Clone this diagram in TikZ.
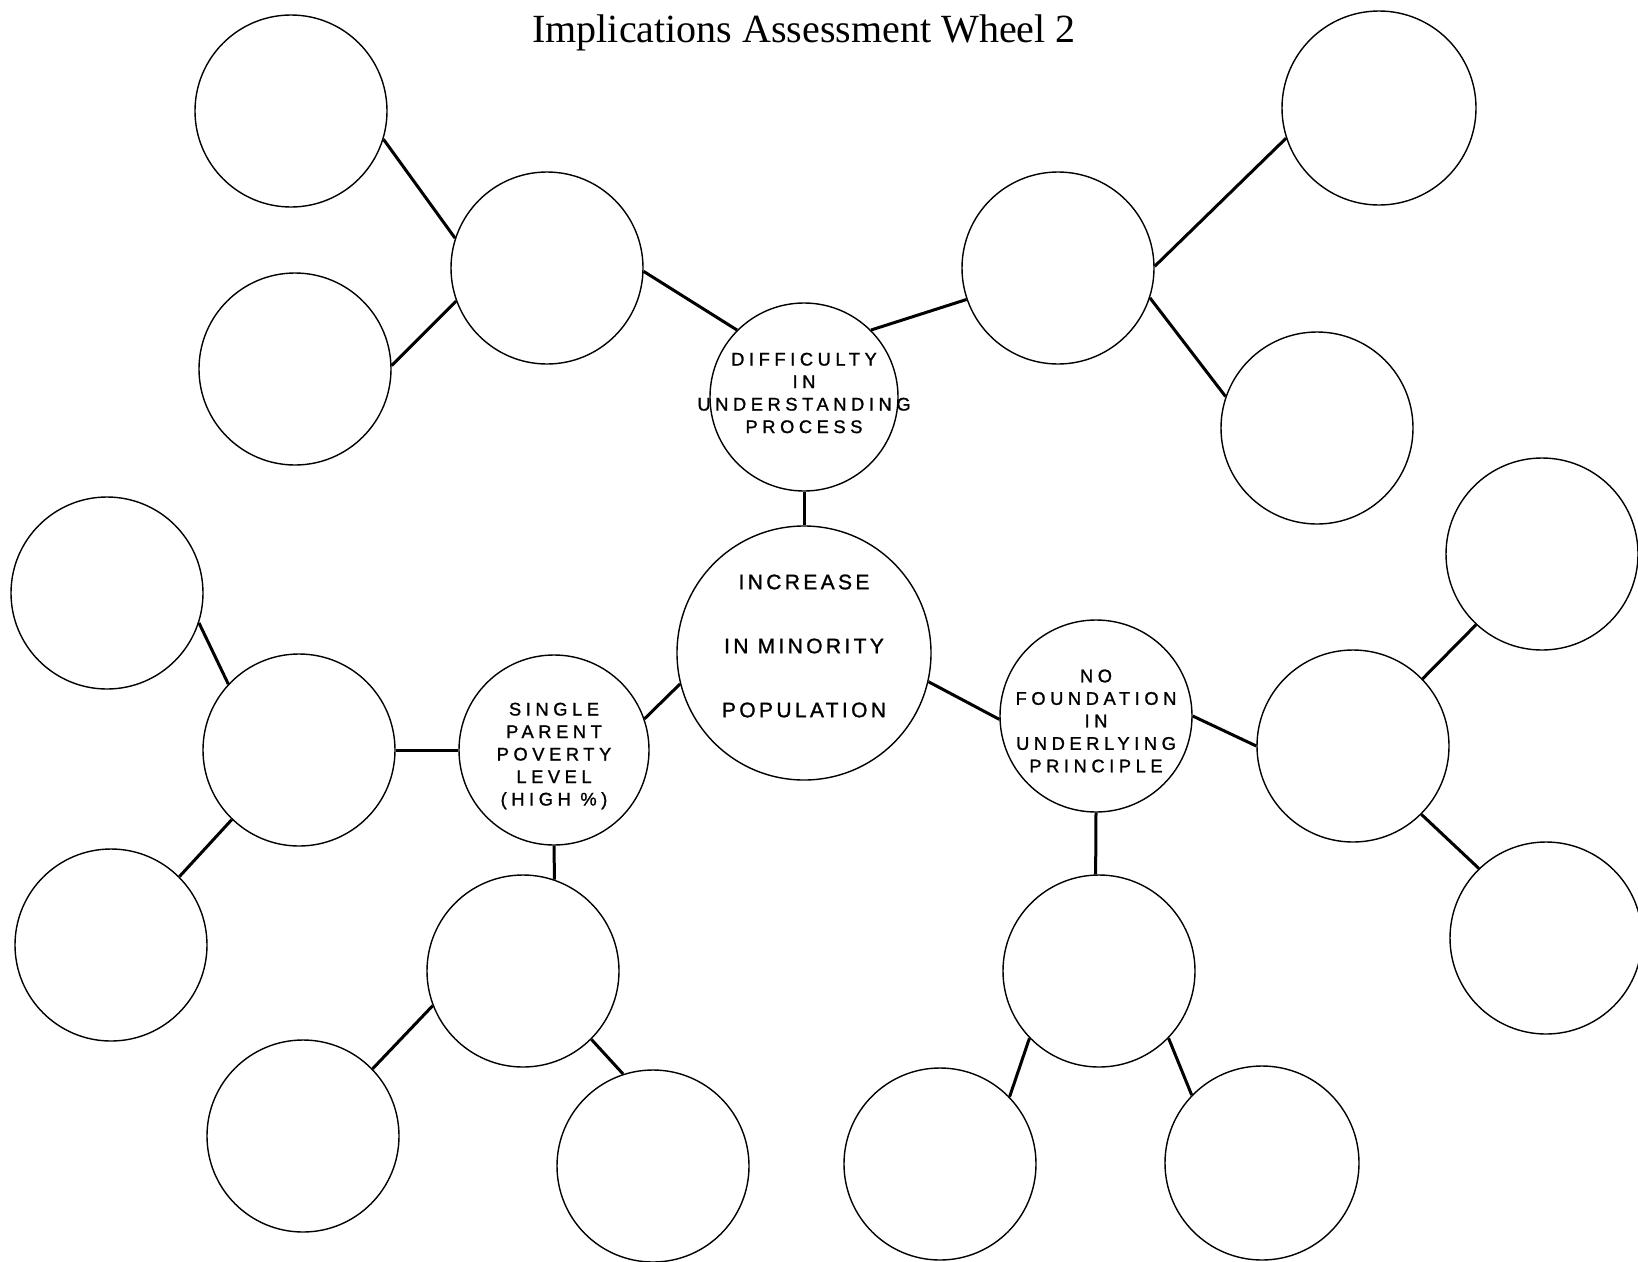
\documentclass[tikz,border=0pt]{standalone}
\usepackage{fontspec}
\setmainfont{Liberation Serif}
\newfontfamily\hubfont[LetterSpace=16,FakeBold=1.2]{Liberation Sans}
\newfontfamily\spokefont[LetterSpace=25,FakeBold=1.2]{Liberation Sans}
\begin{document}
\begin{tikzpicture}[x=1pt,y=-1pt,
  wheel/.style={circle,draw,line width=1.4pt,inner sep=0pt,minimum size=#1},
  wheel/.default=192pt,
  link/.style={line width=3pt},
  hubtext/.style={align=center,inner sep=0pt,font=\hubfont\fontsize{21}{64}\selectfont},
  spoketext/.style={align=center,inner sep=0pt,font=\spokefont\fontsize{18.3}{22.5}\selectfont}]
\useasboundingbox[fill=white] (0,0) rectangle (1638,1261);

% title
\node[anchor=base,inner sep=0pt,font=\fontsize{40}{48}\selectfont] (title) at (804,42)
  {Implications Assessment Wheel 2};

% hub and first ring
\node[wheel=254pt] (hub) at (804,653) {};
\node[wheel=188pt] (diff) at (804,397) {};
\node[wheel=190pt] (single) at (554,750) {};
\node[wheel=192pt] (found) at (1096,716) {};

% second ring
\node[wheel] (tlm) at (547,268) {};
\node[wheel] (trm) at (1058,268) {};
\node[wheel] (lm) at (299,750) {};
\node[wheel] (blm) at (523,971) {};
\node[wheel] (brm) at (1099,971) {};
\node[wheel] (rm) at (1353,746) {};

% outer ring
\node[wheel] (tla) at (291,111) {};
\node[wheel] (tlb) at (295,369) {};
\node[wheel=194pt] (tra) at (1379,108) {};
\node[wheel] (trb) at (1317,428) {};
\node[wheel] (la) at (107,593) {};
\node[wheel] (lb) at (111,945) {};
\node[wheel] (bla) at (303,1136) {};
\node[wheel] (blb) at (653,1166) {};
\node[wheel] (bra) at (940,1164) {};
\node[wheel=194pt] (brb) at (1262,1163) {};
\node[wheel] (ra) at (1542,554) {};
\node[wheel] (rb) at (1546,938) {};

% labels
\node[hubtext] (hub-t) at (804,646) {INCREASE\\IN MINORITY\\POPULATION};
\node[spoketext] (diff-t) at (804,393) {DIFFICULTY\\IN\\UNDERSTANDING\\PROCESS};
\node[spoketext] (single-t) at (554,756) {SINGLE\\PARENT\\POVERTY\\LEVEL\\(HIGH \%)};
\node[spoketext] (found-t) at (1096,721) {NO\\FOUNDATION\\IN\\UNDERLYING\\PRINCIPLE};

% connectors
\draw[link] (tla.-17) -- (tlm.162);
\draw[link] (tlb.2) -- (tlm.200);
\draw[link] (tlm.-2) -- (diff.135);
\draw[link] (diff.45) -- (trm.199);
\draw[link] (trm.1) -- (tra.198);
\draw[link] (trm.-18) -- (trb.161);
\draw[link] (diff.south) -- (hub.north);
\draw[link] (hub.194) -- (single.19);
\draw[link] (hub.-13) -- (found.182);
\draw[link] (lm.east) -- (single.west);
\draw[link] (lm.137) -- (la.-18);
\draw[link] (lm.226) -- (lb.45);
\draw[link] (single.south) -- (blm.71);
\draw[link] (blm.201) -- (bla.44);
\draw[link] (blm.-45) -- (blb.108);
\draw[link] (found.east) -- (rm.west);
\draw[link] (rm.44) -- (ra.227);
\draw[link] (rm.-45) -- (rb.134);
\draw[link] (found.south) -- (brm.92);
\draw[link] (brm.224) -- (bra.44);
\draw[link] (brm.-44) -- (brb.136);
\end{tikzpicture}
\end{document}
